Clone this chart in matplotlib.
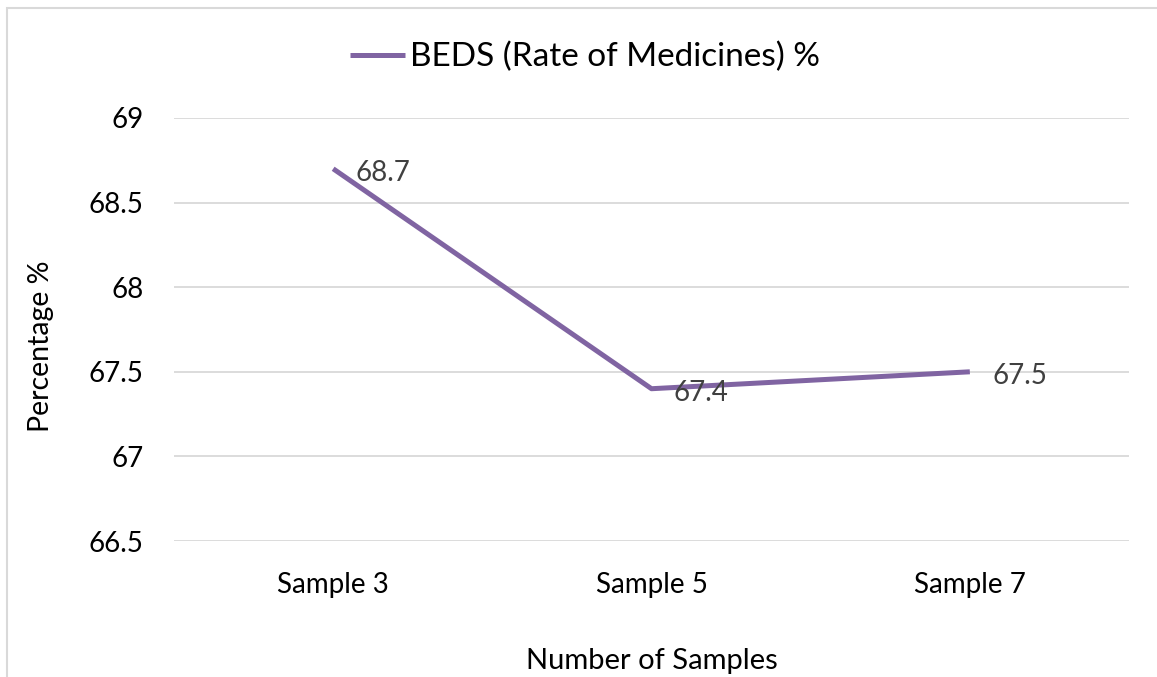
import matplotlib.pyplot as plt
from matplotlib.patches import Rectangle

# series data
samples = ['Sample 3', 'Sample 5', 'Sample 7']
rate = [68.7, 67.4, 67.5]
yticks = [66.5, 67, 67.5, 68, 68.5, 69]

plt.rcParams['font.family'] = ['Lato', 'DejaVu Sans']

W, H = 1157, 677
fig = plt.figure(figsize=(W / 100, H / 100), dpi=100)

# chart frame (light gray, runs off the right and bottom edges)
fig.patches.append(Rectangle((7 / W, -0.05), 1.2, 1 - 8 / H + 0.05,
                             transform=fig.transFigure, fill=False,
                             edgecolor='#d9d9d9', linewidth=1.5))

ax = fig.add_axes([174 / W, 1 - 541 / H, (1129 - 174) / W, (541 - 118) / H])
x = list(range(len(samples)))
line, = ax.plot(x, rate, color='#8064a2', linewidth=3.6,
                solid_capstyle='butt', label='BEDS (Rate of Medicines) %')

for xi, v in zip(x, rate):
    ax.annotate(f'{v:g}', (xi, v), xytext=(16, -3), textcoords='offset points',
                ha='left', va='center', fontsize=20, color='#404040')

ax.set_xlim(-0.5, len(samples) - 0.5)
ax.set_ylim(66.5, 69)
ax.set_xticks(x)
ax.set_xticklabels(samples)
ax.set_yticks(yticks)
ax.set_yticklabels([f'{t:g}' for t in yticks])
ax.tick_params(axis='both', length=0, labelsize=20, colors='black')
ax.tick_params(axis='y', pad=22)
ax.tick_params(axis='x', pad=22)

ax.grid(axis='y', color='#d9d9d9', linewidth=1.3)
ax.set_axisbelow(True)
for s in ax.spines.values():
    s.set_visible(False)

ax.set_ylabel('Percentage %', fontsize=20.5)
ax.yaxis.set_label_coords(-0.126, 0.46)
ax.set_xlabel('Number of Samples', fontsize=21, labelpad=36)

fig.legend(handles=[line], loc='center left', bbox_to_anchor=(320 / W, 1 - 57 / H),
           frameon=False, fontsize=24, handlelength=1.65, handletextpad=0.15)

fig.savefig('out.png', dpi=100)
